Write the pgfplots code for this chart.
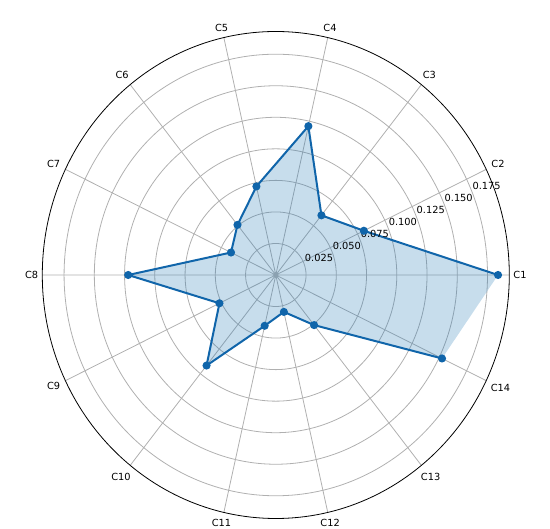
\documentclass[border=0pt]{standalone}
\usepackage{pgfplots}
\pgfplotsset{compat=1.18}
\usepgfplotslibrary{polar}
\usepackage{fontspec}
\setmainfont{DejaVu Sans}
\definecolor{cline}{RGB}{16,101,170}
\definecolor{cfill}{RGB}{31,119,180}
\definecolor{cgrid}{RGB}{176,176,176}

\begin{document}
\begin{tikzpicture}[font=\fontsize{9.8}{12}\selectfont]
  \begin{polaraxis}[
    scale only axis,
    width=467pt,
    height=487pt,
    clip=false,
    xmin=0, xmax=360,
    ymin=0, ymax=0.193,
    xtick={0,25.714,51.429,77.143,102.857,128.571,154.286,180,205.714,231.429,257.143,282.857,308.571,334.286},
    xticklabels={C1,C2,C3,C4,C5,C6,C7,C8,C9,C10,C11,C12,C13,C14},
    ytick={0.025,0.05,0.075,0.1,0.125,0.15,0.175},
    yticklabels={},
    xticklabel style={inner sep=4pt},
    major tick length=0pt,
    grid=major,
    major grid style={cgrid, line width=0.8pt},
    x axis line style={black, line width=0.8pt},
    y axis line style={draw=none},
  ]
    % fill: polygon closed back to C1
    \addplot[draw=none, fill=cfill, fill opacity=0.25] coordinates {
      (0,0.1837) (25.714,0.0808) (51.429,0.0605) (77.143,0.1210)
      (102.857,0.0720) (128.571,0.0508) (154.286,0.0411) (180,0.1220)
      (205.714,0.0517) (231.429,0.0918) (257.143,0.0413) (282.857,0.0300)
      (308.571,0.0508) (334.286,0.1525) (360,0.1837)
    };
    \addplot[cline, line width=2pt, mark=*, mark size=3pt] coordinates {
      (0,0.1837) (25.714,0.0808) (51.429,0.0605) (77.143,0.1210)
      (102.857,0.0720) (128.571,0.0508) (154.286,0.0411) (180,0.1220)
      (205.714,0.0517) (231.429,0.0918) (257.143,0.0413) (282.857,0.0300)
      (308.571,0.0508) (334.286,0.1525)
    };
    \foreach \r in {0.025,0.050,0.075,0.100,0.125,0.150,0.175} {
      \edef\tmp{\noexpand\node[anchor=south west, inner sep=1pt] at (axis cs:22.5,\r) {\r};}
      \tmp
    }
    \coordinate (O) at (axis cs:0,0);
  \end{polaraxis}
  \pgfresetboundingbox
  \path[use as bounding box] (O) ++(-275.8pt,-254pt) rectangle ++(550pt,529pt);
\end{tikzpicture}
\end{document}
